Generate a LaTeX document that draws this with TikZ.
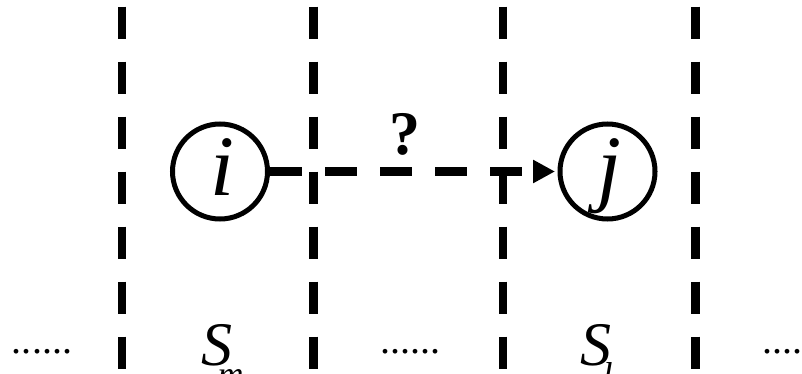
\documentclass[tikz,border=0pt]{standalone}
\usepackage{fontspec}
\setmainfont{Liberation Serif}
\usetikzlibrary{arrows.meta}
\begin{document}
\begin{tikzpicture}[x=1pt,y=-1pt,
  sepline/.style={line width=8.7pt, dash pattern=on 32pt off 23pt},
  state/.style={circle, draw, line width=5pt, minimum size=95pt, inner sep=0pt},
  lbl/.style={inner sep=0pt, anchor=base},
  letter/.style={lbl, font=\fontsize{86}{86}\selectfont\itshape},
  setname/.style={lbl, font=\fontsize{62}{62}\selectfont\itshape},
  setsub/.style={lbl, font=\fontsize{36}{36}\selectfont\itshape},
  dots/.style={lbl, font=\fontsize{40}{40}\selectfont},
  link/.style={line width=8.7pt, dash pattern=on 32pt off 23pt,
    -{Triangle[length=22pt,width=22pt]}, shorten >=2.5pt}]
\useasboundingbox (0,0) rectangle (802,374);
% separators
\coordinate (t1) at (122,6.7);   \coordinate (b1) at (122,368.7);
\coordinate (t2) at (313.5,6.7); \coordinate (b2) at (313.5,368.7);
\coordinate (t3) at (503,6.7);   \coordinate (b3) at (503,368.7);
\coordinate (t4) at (695.5,6.7); \coordinate (b4) at (695.5,368.7);
\draw[sepline] (t1) -- (b1);
\draw[sepline] (t2) -- (b2);
\draw[sepline] (t3) -- (b3);
\draw[sepline] (t4) -- (b4);
% nodes
\node[state] (ci) at (220,171.5) {};
\node[state] (cj) at (607.5,171.5) {};
\node[letter] (li) at (222,195) {i};
\node[letter] (lj) at (609,195) {j};
\draw[link] (ci) -- (cj);
\node[lbl, font=\fontsize{62}{62}\selectfont\bfseries] (q) at (405,155) {?};
% set labels
\node[setname] (sm) at (216.5,365) {S};
\node[setsub] (sms) at (230.5,386) {m};
\node[setname] (sl) at (596,365) {S};
\node[setsub] (sls) at (607.5,387) {l};
% dots
\node[dots] (d1) at (42,353) {......};
\node[dots] (d2) at (410,353) {......};
\node[dots] (d3) at (792,353) {......};
\end{tikzpicture}
\end{document}
